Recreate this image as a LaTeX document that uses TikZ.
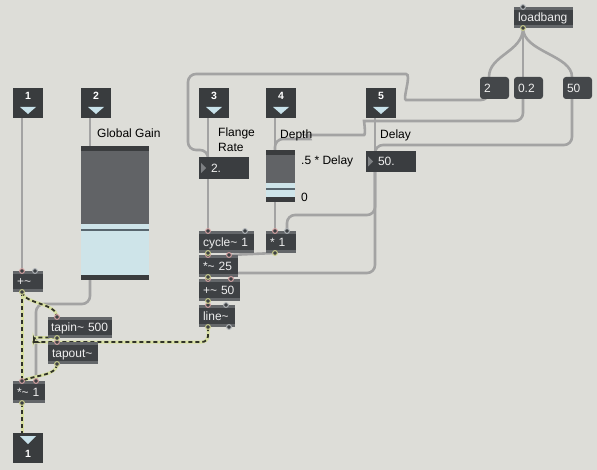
\documentclass[tikz,border=0pt]{standalone}
\usepackage{fontspec}
\setmainfont{Liberation Sans}
\usetikzlibrary{positioning}

\definecolor{patchbg}{RGB}{221,221,216}
\definecolor{boxdark}{RGB}{62,65,68}
\definecolor{objstrip}{RGB}{100,103,106}
\definecolor{portdark}{RGB}{57,60,62}
\definecolor{numfill}{RGB}{58,61,64}
\definecolor{msgfill}{RGB}{68,71,74}
\definecolor{numtri}{RGB}{125,128,131}
\definecolor{triblue}{RGB}{200,226,234}
\definecolor{slidedark}{RGB}{58,60,62}
\definecolor{slidebody}{RGB}{97,99,102}
\definecolor{slideblue}{RGB}{206,228,233}
\definecolor{slideline}{RGB}{88,102,110}
\definecolor{cordgray}{RGB}{163,163,163}
\definecolor{sigbase}{RGB}{216,224,162}
\definecolor{sigdash}{RGB}{48,50,40}
\definecolor{nubpink}{RGB}{214,162,162}
\definecolor{nubyel}{RGB}{204,208,140}
\definecolor{nubgray}{RGB}{178,182,186}
\definecolor{boxtext}{RGB}{238,238,238}

\pgfdeclarelayer{back}
\pgfdeclarelayer{wires}
\pgfsetlayers{back,wires,main}

\tikzset{
	objbase/.style={fill=boxdark, text=boxtext, font=\fontsize{12}{14}\selectfont,
		inner xsep=4pt, inner ysep=0pt, outer sep=0pt, minimum height=22pt,
		text height=8.6pt, text depth=0pt, align=left, anchor=north west},
	obj/.style={objbase, text width=#1,
		path picture={
			\fill[objstrip] (path picture bounding box.north west) rectangle ([yshift=-3pt]path picture bounding box.north east);
			\fill[objstrip] ([yshift=3pt]path picture bounding box.south west) rectangle (path picture bounding box.south east);
		}},
	numbox/.style={objbase, fill=numfill, text width=#1, execute at begin node={\hspace*{8pt}},
		path picture={
			\fill[numtri] ([xshift=2pt,yshift=5pt]path picture bounding box.west) -- ++(5pt,-5pt) -- ++(-5pt,-5pt) -- cycle;
		}},
	msg/.style={objbase, fill=msgfill, rounded corners=3pt, text width=#1},
	portnum/.style={text=white, font=\fontsize{10.5}{12}\bfseries\selectfont, inner sep=0pt, anchor=center},
	port/.style={fill=portdark, minimum size=30pt, inner sep=0pt, outer sep=0pt, anchor=north west},
	inport/.style={port,
		path picture={
			\node[portnum] at ([yshift=-8pt]path picture bounding box.north) {#1};
			\fill[triblue] ([xshift=-8pt,yshift=-19pt]path picture bounding box.north) -- ++(16pt,0pt) -- ++(-8pt,-7pt) -- cycle;
		}},
	outport/.style={port,
		path picture={
			\fill[triblue] ([xshift=-8pt,yshift=-3pt]path picture bounding box.north) -- ++(16pt,0pt) -- ++(-8pt,-8pt) -- cycle;
			\node[portnum] at ([yshift=-21pt]path picture bounding box.north) {#1};
		}},
	slider/.style={fill=slidebody, inner sep=0pt, outer sep=0pt, anchor=north west,
		path picture={
			\fill[slidedark] (path picture bounding box.north west) rectangle ([yshift=-5pt]path picture bounding box.north east);
			\fill[slidedark] ([yshift=5pt]path picture bounding box.south west) rectangle (path picture bounding box.south east);
			\fill[slideblue] ([yshift=5pt]path picture bounding box.south west) rectangle ([yshift={(5+#1)*1pt}]path picture bounding box.south east);
			\fill[slideline] ([yshift={(#1-1.8)*1pt}]path picture bounding box.south west) rectangle ([yshift={(#1-0.2)*1pt}]path picture bounding box.south east);
		}},
	lbl/.style={font=\fontsize{12}{14}\selectfont, inner sep=0pt, anchor=north west},
	cord/.style={draw=cordgray, line width=2.6pt, rounded corners=8pt},
	sig/.style={draw=sigdash, line width=1.8pt, dash pattern=on 4pt off 3pt, rounded corners=6pt,
		preaction={draw=sigbase, line width=3pt, solid}},
	nub/.style={fill=boxdark, draw=#1, line width=1pt}
}

\begin{document}
\begin{tikzpicture}[x=1pt,y=-1pt]
	\useasboundingbox (0,0) rectangle (597,470);
	\begin{pgfonlayer}{back}
		\fill[patchbg] (0,0) rectangle (597,470);
	\end{pgfonlayer}

	\node[inport=1] (in1) at (13,88) {};
	\node[inport=2] (in2) at (81,88) {};
	\node[inport=3] (in3) at (199,88) {};
	\node[inport=4] (in4) at (266,88) {};
	\node[inport=5] (in5) at (366,88) {};
	\node[outport=1] (out1) at (13,433) {};

	\node[lbl] (lglobal) at (97,129) {Global Gain};
	\node[lbl] (lflange) at (218,128) {Flange};
	\node[lbl] (lrate) at (218,143) {Rate};
	\node[lbl] (ldepth) at (280,129.5) {Depth};
	\node[lbl] (lhalf) at (301,156) {.5 * Delay};
	\node[lbl] (lzero) at (301,193) {0};
	\node[lbl] (ldelay) at (380,129.5) {Delay};

	\node[slider=51, minimum width=68pt, minimum height=134pt] (gain) at (81,146) {};
	\node[slider=14, minimum width=29pt, minimum height=52pt] (depth) at (266,150) {};

	\node[obj=51pt, minimum height=21pt] (lb) at (514,7) {loadbang};
	\node[msg=21pt] (msg2) at (480,77) {2};
	\node[msg=21pt] (msg02) at (514,77) {0.2};
	\node[msg=21pt] (msg50) at (563,77) {50};

	\node[numbox=42pt] (num2) at (199,157) {2.};
	\node[numbox=42pt, minimum height=21pt] (num50) at (366,151) {50.};

	\node[obj=47pt] (cyc) at (199,231) {cycle\textasciitilde{} 1};
	\node[obj=22pt] (mul) at (266,231) {* 1};
	\node[obj=31pt] (times25) [below=2pt of cyc.south west, anchor=north west] {*\textasciitilde{} 25};
	\node[obj=33pt] (plus50) [below=2pt of times25.south west, anchor=north west] {+\textasciitilde{} 50};
	\node[obj=28pt] (line) [below=4pt of plus50.south west, anchor=north west] {line\textasciitilde};

	\node[obj=22pt, minimum height=21pt] (plus) at (13,271) {+\textasciitilde};
	\node[obj=58pt, inner xsep=3pt, minimum height=21pt] (tapin) at (48,317) {tapin\textasciitilde{} 500};
	\node[obj=42pt] (tapout) [below=4pt of tapin.south west, anchor=north west] {tapout\textasciitilde};
	\node[obj=24pt] (times1) at (13,381) {*\textasciitilde{} 1};

	\begin{pgfonlayer}{wires}
		\path[cord]
		([xshift=9pt]in1.south west) edge ([xshift=9pt]plus.north west)
		([xshift=9pt]in2.south west) edge ([xshift=9pt]gain.north west)
		([xshift=9pt]in3.south west) edge ([xshift=9pt]num2.north west)
		([xshift=9pt]num2.south west) edge ([xshift=9pt]cyc.north west)
		([xshift=9pt]in4.south west) edge ([xshift=9pt]depth.north west)
		([xshift=9pt]depth.south west) edge ([xshift=9pt]mul.north west)
		([xshift=9pt]in5.south west) edge ([xshift=9pt]num50.north west)
		([xshift=9pt]mul.south west) edge ([xshift=-9pt]times25.north east)
		([xshift=9pt]lb.south west) edge ([xshift=9pt]msg02.north west)
		;
		\draw[cord] ([xshift=9pt]lb.south west) .. controls +(0,24) and +(0,-22) .. ([xshift=9pt]msg2.north west);
		\draw[cord] ([xshift=9pt]lb.south west) .. controls +(0,24) and +(0,-22) .. ([xshift=9pt]msg50.north west);
		\draw[cord] ([xshift=9pt]gain.south west) -- ++(0,24) -| ([xshift=-9pt]times1.north east);
		\draw[cord] ([xshift=9pt]num50.south west) -- ++(0,43) -| ([xshift=-9pt]mul.north east);
		\draw[cord] ([xshift=9pt]num50.south west) -- ++(0,101) -| ([xshift=-9pt]plus50.north east);
		\draw[cord] ([xshift=9pt]msg2.south west) -- ++(0,1) -- (414,100) .. controls (402,100) and (412,74) .. (398,74)
			-- (188,74) -- (188,150) -| ([xshift=9pt]num2.north west);
		\draw[cord] ([xshift=9pt]msg02.south west) |- (372,121) .. controls (364,121) and (366,135) .. (356,135)
			-- (314,135) .. controls (308,135) and (310,139) .. (302,139) -| ([xshift=9pt]depth.north west);
		\draw[cord] ([xshift=9pt]msg50.south west) -- ++(0,46) -| ([xshift=9pt]num50.north west);

		\draw[sig] ([xshift=9pt]plus.south west) -- ([xshift=9pt]times1.north west);
		\draw[sig] ([xshift=9pt]plus.south west) .. controls +(2,12) and +(0,-14) .. ([xshift=9pt]tapin.north west);
		\draw[sig] ([xshift=9pt]tapin.south west) -- ([xshift=9pt]tapout.north west);
		\draw[sig] ([xshift=9pt]line.south west) |- (38,342) [rounded corners=2.5pt] -- (34,342) -- (34,337.5) -| ([xshift=9pt]tapout.north west);
		\draw[sig] ([xshift=9pt]tapout.south west) .. controls +(0,12) and +(12,-6) .. ([xshift=9pt]times1.north west);
		\draw[sig] ([xshift=9pt]times1.south west) -- ([xshift=9pt]out1.north west);
		\draw[sig] ([xshift=9pt]cyc.south west) -- ([xshift=9pt]times25.north west);
		\draw[sig] ([xshift=9pt]times25.south west) -- ([xshift=9pt]plus50.north west);
		\draw[sig] ([xshift=9pt]plus50.south west) -- ([xshift=9pt]line.north west);
	\end{pgfonlayer}

	\foreach \p in {([xshift=9pt]plus.north west), ([xshift=9pt]cyc.north west), ([xshift=9pt]mul.north west),
		([xshift=9pt]times25.north west), ([xshift=-9pt]times25.north east), ([xshift=9pt]plus50.north west),
		([xshift=-9pt]plus50.north east), ([xshift=9pt]line.north west), ([xshift=9pt]tapin.north west),
		([xshift=9pt]tapout.north west), ([xshift=9pt]times1.north west), ([xshift=-9pt]times1.north east)}
		\filldraw[nub=nubpink] \p circle (2.4pt);
	\foreach \p in {([xshift=-9pt]cyc.north east), ([xshift=-9pt]mul.north east), ([xshift=-9pt]line.north east),
		([xshift=9pt]lb.north west), ([xshift=-8pt]plus.north east), ([xshift=-6pt]line.south east)}
		\filldraw[nub=nubgray] \p circle (2.4pt);
	\foreach \p in {([xshift=9pt]plus.south west), ([xshift=9pt]cyc.south west), ([xshift=9pt]mul.south west),
		([xshift=9pt]times25.south west), ([xshift=9pt]plus50.south west), ([xshift=9pt]line.south west),
		([xshift=9pt]tapin.south west), ([xshift=9pt]tapout.south west), ([xshift=9pt]times1.south west),
		([xshift=9pt]lb.south west)}
		\filldraw[nub=nubyel] \p circle (2.4pt);
\end{tikzpicture}
\end{document}
